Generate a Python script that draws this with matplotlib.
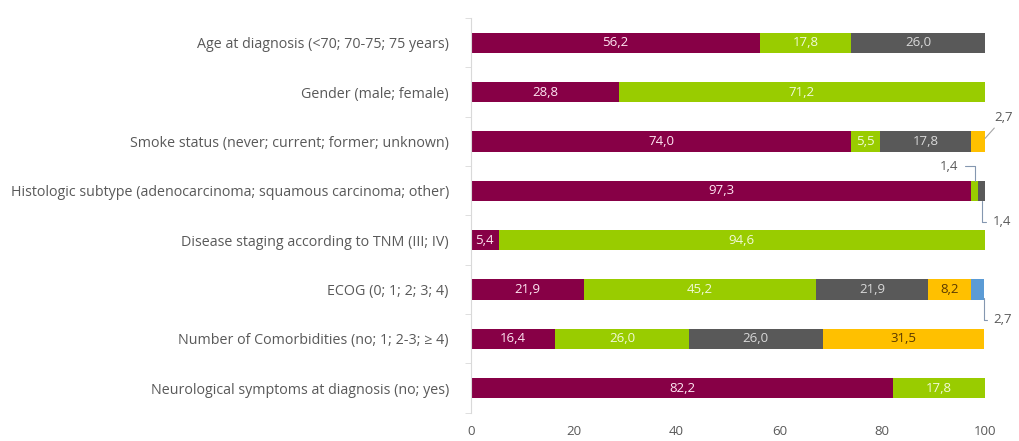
import matplotlib
matplotlib.use("Agg")
import matplotlib.pyplot as plt
import numpy as np

plt.rcParams['font.family'] = ['Open Sans', 'DejaVu Sans']

# categories, top to bottom
categories = [
    "Age at diagnosis (<70; 70-75; 75 years)",
    "Gender (male; female)",
    "Smoke status (never; current; former; unknown)",
    "Histologic subtype (adenocarcinoma; squamous carcinoma; other)",
    "Disease staging according to TNM (III; IV)",
    "ECOG (0; 1; 2; 3; 4)",
    "Number of Comorbidities (no; 1; 2-3; \u2265 4)",
    "Neurological symptoms at diagnosis (no; yes)",
]

# percentages per category, in stacking order
values = [
    [56.2, 17.8, 26.0],
    [28.8, 71.2],
    [74.0, 5.5, 17.8, 2.7],
    [97.3, 1.4, 1.4],
    [5.4, 94.6],
    [21.9, 45.2, 21.9, 8.2, 2.7],
    [16.4, 26.0, 26.0, 31.5],
    [82.2, 17.8],
]

x_ticks = [0, 20, 40, 60, 80, 100]

colors = ["#870046", "#99CC00", "#595959", "#FFC000", "#5B9BD5"]
label_colors = ["#FFE6F2", "#F2FAD9", "#D9D9D9", "#5A3A00", "#FFFFFF"]
TXT = "#595959"
BAR_H = 0.41

fig = plt.figure(figsize=(10.19, 4.41), dpi=100)
ax = fig.add_axes([0.4622, 0.064, 0.5044, 0.895])

for row, vals in enumerate(values):
    left = 0.0
    for j, v in enumerate(vals):
        ax.barh(row, v, left=left, height=BAR_H, color=colors[j],
                edgecolor="none")
        if v >= 5:
            ax.text(left + v / 2, row, f"{v:.1f}".replace(".", ","),
                    ha="center", va="center", fontsize=9.5,
                    color=label_colors[j])
        left += v

def seg_bounds(row, idx):
    start = sum(values[row][:idx])
    return start, start + values[row][idx]

def fmt(v):
    return f"{v:.1f}".replace(".", ",")

ann_kw = dict(fontsize=9.5, color=TXT, annotation_clip=False)
elbow = "angle,angleA=0,angleB=90,rad=0"

# smoke status: unknown (2,7)
s, e = seg_bounds(2, 3)
ax.annotate(fmt(values[2][3]), xy=(e, 2 - 0.06), xytext=(101.8, 1.52),
            ha="left", va="center",
            arrowprops=dict(arrowstyle="-", color="#A6A6A6", lw=0.8,
                            shrinkA=1, shrinkB=0), **ann_kw)

# histologic: squamous (1,4) above
s, e = seg_bounds(3, 1)
ax.annotate(fmt(values[3][1]), xy=((s + e) / 2, 3 - BAR_H / 2),
            xytext=(91.2, 2.5), ha="left", va="center",
            arrowprops=dict(arrowstyle="-", color="#8497B0", lw=0.8,
                            connectionstyle=elbow, shrinkA=3, shrinkB=0),
            **ann_kw)

# histologic: other (1,4) below
s, e = seg_bounds(3, 2)
ax.annotate(fmt(values[3][2]), xy=((s + e) / 2, 3 + BAR_H / 2),
            xytext=(101.6, 3.63), ha="left", va="center",
            arrowprops=dict(arrowstyle="-", color="#8497B0", lw=0.8,
                            connectionstyle=elbow, shrinkA=3, shrinkB=0),
            **ann_kw)

# ECOG 4 (2,7)
s, e = seg_bounds(5, 4)
ax.annotate(fmt(values[5][4]), xy=(e, 5 + BAR_H / 2 - 0.04),
            xytext=(101.7, 5.61), ha="left", va="center",
            arrowprops=dict(arrowstyle="-", color="#8497B0", lw=0.8,
                            connectionstyle=elbow, shrinkA=3, shrinkB=0),
            **ann_kw)

ax.set_xlim(0, 100)
ax.set_ylim(len(categories) - 0.5, -0.5)
ax.set_xticks(x_ticks)
ax.set_xticklabels([str(t) for t in x_ticks])
ax.set_yticks(range(len(categories)))
ax.set_yticklabels(categories)
ax.set_yticks(np.arange(-0.5, len(categories), 1.0), minor=True)

ax.tick_params(axis="y", which="major", length=0, pad=16, labelsize=10.3,
               labelcolor=TXT)
ax.tick_params(axis="y", which="minor", length=4, color="#D9D9D9",
               direction="out")
ax.tick_params(axis="x", length=0, pad=9, labelsize=9.5, labelcolor=TXT)

for side in ["top", "right", "bottom"]:
    ax.spines[side].set_visible(False)
ax.spines["left"].set_color("#D9D9D9")
ax.spines["left"].set_linewidth(0.8)

fig.savefig("out.png", dpi=100)
